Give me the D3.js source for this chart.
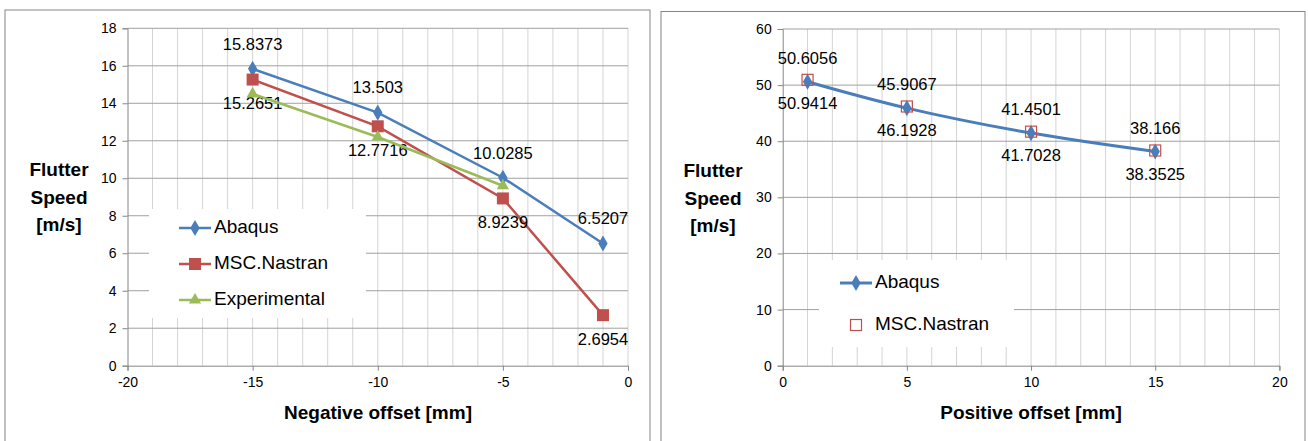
<!DOCTYPE html>
<html>
<head>
<meta charset="utf-8">
<script src="https://cdn.jsdelivr.net/npm/d3@7"></script>
<style>
  body { margin: 0; background: #fff; }
  svg { display: block; font-family: "Liberation Sans", Arial, sans-serif; }
</style>
</head>
<body>
<div id="chart"></div>
<script>
// left chart: negative offset
var negOffset = [-15, -10, -5, -1];
var negAbaqus = [15.8373, 13.503, 10.0285, 6.5207];
var negNastran = [15.2651, 12.7716, 8.9239, 2.6954];
var negExpOffset = [-15, -10, -5];
var negExperimental = [14.5, 12.2, 9.6];
var negXTicks = [-20, -15, -10, -5, 0];
var negYTicks = [0, 2, 4, 6, 8, 10, 12, 14, 16, 18];

// right chart: positive offset
var posOffset = [1, 5, 10, 15];
var posAbaqus = [50.6056, 45.9067, 41.4501, 38.166];
var posNastran = [50.9414, 46.1928, 41.7028, 38.3525];
var posXTicks = [0, 5, 10, 15, 20];
var posYTicks = [0, 10, 20, 30, 40, 50, 60];

var blue = "#4a7ebb", red = "#c0504d", green = "#9bbb59";

var svg = d3.select("#chart").append("svg")
    .attr("width", 1308)
    .attr("height", 441);

function zip(xs, ys) {
  return xs.map(function(x, i) { return [x, ys[i]]; });
}

function marker(g, type, color, x, y) {
  if (type == "diamond") {
    g.append("path")
      .attr("d", d3.symbol().type(d3.symbolDiamond).size(75)())
      .attr("transform", "translate(" + x + "," + y + ")")
      .attr("fill", color);
  } else if (type == "square") {
    g.append("rect")
      .attr("x", x - 6).attr("y", y - 6)
      .attr("width", 12).attr("height", 12)
      .attr("fill", color);
  } else if (type == "triangle") {
    g.append("path")
      .attr("d", d3.symbol().type(d3.symbolTriangle).size(65)())
      .attr("transform", "translate(" + x + "," + y + ")")
      .attr("fill", color);
  } else if (type == "hollow") {
    g.append("rect")
      .attr("x", x - 5.5).attr("y", y - 5.5)
      .attr("width", 11).attr("height", 11)
      .attr("fill", "none")
      .attr("stroke", color)
      .attr("stroke-width", 1.2);
  }
}

function drawChart(c) {
  var g = svg.append("g");

  g.append("rect")
    .attr("x", c.box[0]).attr("y", c.box[1])
    .attr("width", c.box[2]).attr("height", 460)
    .attr("fill", "#fff")
    .attr("stroke", "#868686");

  var x = d3.scaleLinear().domain(c.xDomain).range([c.left, c.right]);
  var y = d3.scaleLinear().domain(c.yDomain).range([c.bottom, c.top]);

  // vertical gridlines every unit
  g.append("g").selectAll("line")
    .data(d3.range(c.xDomain[0] + 1, c.xDomain[1] + 1))
    .enter().append("line")
      .attr("x1", function(d) { return x(d); })
      .attr("x2", function(d) { return x(d); })
      .attr("y1", c.top).attr("y2", c.bottom)
      .attr("stroke", "#d4d4d4");

  // horizontal gridlines
  g.append("g").selectAll("line")
    .data(c.yTicks.slice(1))
    .enter().append("line")
      .attr("x1", c.left).attr("x2", c.right)
      .attr("y1", function(d) { return y(d); })
      .attr("y2", function(d) { return y(d); })
      .attr("stroke", "#a0a0a0");

  var fmt = function(d) { return String(d); };
  var yAxis = g.append("g")
    .attr("transform", "translate(" + c.left + ",0)")
    .call(d3.axisLeft(y).tickValues(c.yTicks).tickFormat(fmt).tickSize(5).tickPadding(6));
  var xAxis = g.append("g")
    .attr("transform", "translate(0," + c.bottom + ")")
    .call(d3.axisBottom(x).tickValues(c.xTicks).tickFormat(fmt).tickSize(5).tickPadding(9));
  [xAxis, yAxis].forEach(function(a) {
    a.attr("font-size", 14).attr("font-family", "Liberation Sans, Arial, sans-serif");
    a.select(".domain").attr("stroke", "#868686");
    a.selectAll(".tick line").attr("stroke", "#868686");
    a.selectAll(".tick text").style("font-size", "14px").attr("fill", "#000");
  });
  xAxis.selectAll(".tick text").attr("dy", "0.5em");

  // legend box (drawn under series)
  var lg = g.append("g");
  lg.append("rect")
    .attr("x", c.legend.x).attr("y", c.legend.y)
    .attr("width", c.legend.w).attr("height", c.legend.h)
    .attr("fill", "#fff");

  c.series.forEach(function(s) {
    var pts = zip(s.xs, s.ys);
    if (s.line) {
      g.append("path")
        .datum(pts)
        .attr("fill", "none")
        .attr("stroke", s.color)
        .attr("stroke-width", s.width)
        .attr("d", d3.line()
          .x(function(d) { return x(d[0]); })
          .y(function(d) { return y(d[1]); })
          .curve(s.smooth ? d3.curveCatmullRom.alpha(0.5) : d3.curveLinear));
    }
    pts.forEach(function(d) { marker(g, s.marker, s.color, x(d[0]), y(d[1])); });
    if (s.labels) {
      g.append("g").selectAll("text")
        .data(pts)
        .enter().append("text")
          .attr("x", function(d) { return x(d[0]); })
          .attr("y", function(d) { return y(d[1]) + s.labelDy; })
          .attr("text-anchor", "middle")
          .attr("dominant-baseline", "middle")
          .attr("font-size", 16.5)
          .text(function(d) { return d[1]; });
    }
  });

  // legend entries
  c.series.forEach(function(s, i) {
    var ly = c.legend.rows[i];
    var lx = c.legend.sx;
    if (s.line) {
      lg.append("line")
        .attr("x1", lx).attr("x2", lx + 32)
        .attr("y1", ly).attr("y2", ly)
        .attr("stroke", s.color).attr("stroke-width", s.width);
    }
    marker(lg, s.marker, s.color, lx + 16, ly);
    lg.append("text")
      .attr("x", c.legend.tx).attr("y", ly)
      .attr("dominant-baseline", "middle")
      .attr("font-size", 19)
      .text(s.name);
  });

  // axis titles
  g.append("text")
    .attr("x", c.xTitle[0]).attr("y", c.xTitle[1])
    .attr("text-anchor", "middle")
    .attr("dominant-baseline", "middle")
    .attr("font-size", 19).attr("font-weight", "bold")
    .text(c.xLabel);
  var yt = g.append("text")
    .attr("text-anchor", "middle")
    .attr("font-size", 19).attr("font-weight", "bold");
  ["Flutter", "Speed", "[m/s]"].forEach(function(t, i) {
    yt.append("tspan")
      .attr("x", c.yTitle[0])
      .attr("y", c.yTitle[1] + i * 27.5)
      .attr("dominant-baseline", "middle")
      .text(t);
  });
}

drawChart({
  box: [5, 10, 645],
  left: 127.5, right: 628, top: 28.3, bottom: 365.7,
  xDomain: [-20, 0], yDomain: [0, 18],
  xTicks: negXTicks, yTicks: negYTicks,
  xLabel: "Negative offset [mm]",
  xTitle: [378, 414], yTitle: [59, 171],
  legend: { x: 149, y: 209, w: 217, h: 109, sx: 179, tx: 214, rows: [228, 264, 300] },
  series: [
    { name: "Abaqus", xs: negOffset, ys: negAbaqus, color: blue, width: 2.5, line: true, marker: "diamond", labels: true, labelDy: -23.5 },
    { name: "MSC.Nastran", xs: negOffset, ys: negNastran, color: red, width: 2.5, line: true, marker: "square", labels: true, labelDy: 25.5 },
    { name: "Experimental", xs: negExpOffset, ys: negExperimental, color: green, width: 2.5, line: true, marker: "triangle", labels: false }
  ]
});

drawChart({
  box: [661, 11.5, 644],
  left: 782.7, right: 1279.4, top: 29, bottom: 365.7,
  xDomain: [0, 20], yDomain: [0, 60],
  xTicks: posXTicks, yTicks: posYTicks,
  xLabel: "Positive offset [mm]",
  xTitle: [1031, 414], yTitle: [713, 172],
  legend: { x: 819, y: 260, w: 195, h: 87, sx: 840, tx: 875, rows: [283, 325] },
  series: [
    { name: "Abaqus", xs: posOffset, ys: posAbaqus, color: blue, width: 3, line: true, smooth: true, marker: "diamond", labels: true, labelDy: -22 },
    { name: "MSC.Nastran", xs: posOffset, ys: posNastran, color: red, width: 3, line: false, marker: "hollow", labels: true, labelDy: 25 }
  ]
});
</script>
</body>
</html>
